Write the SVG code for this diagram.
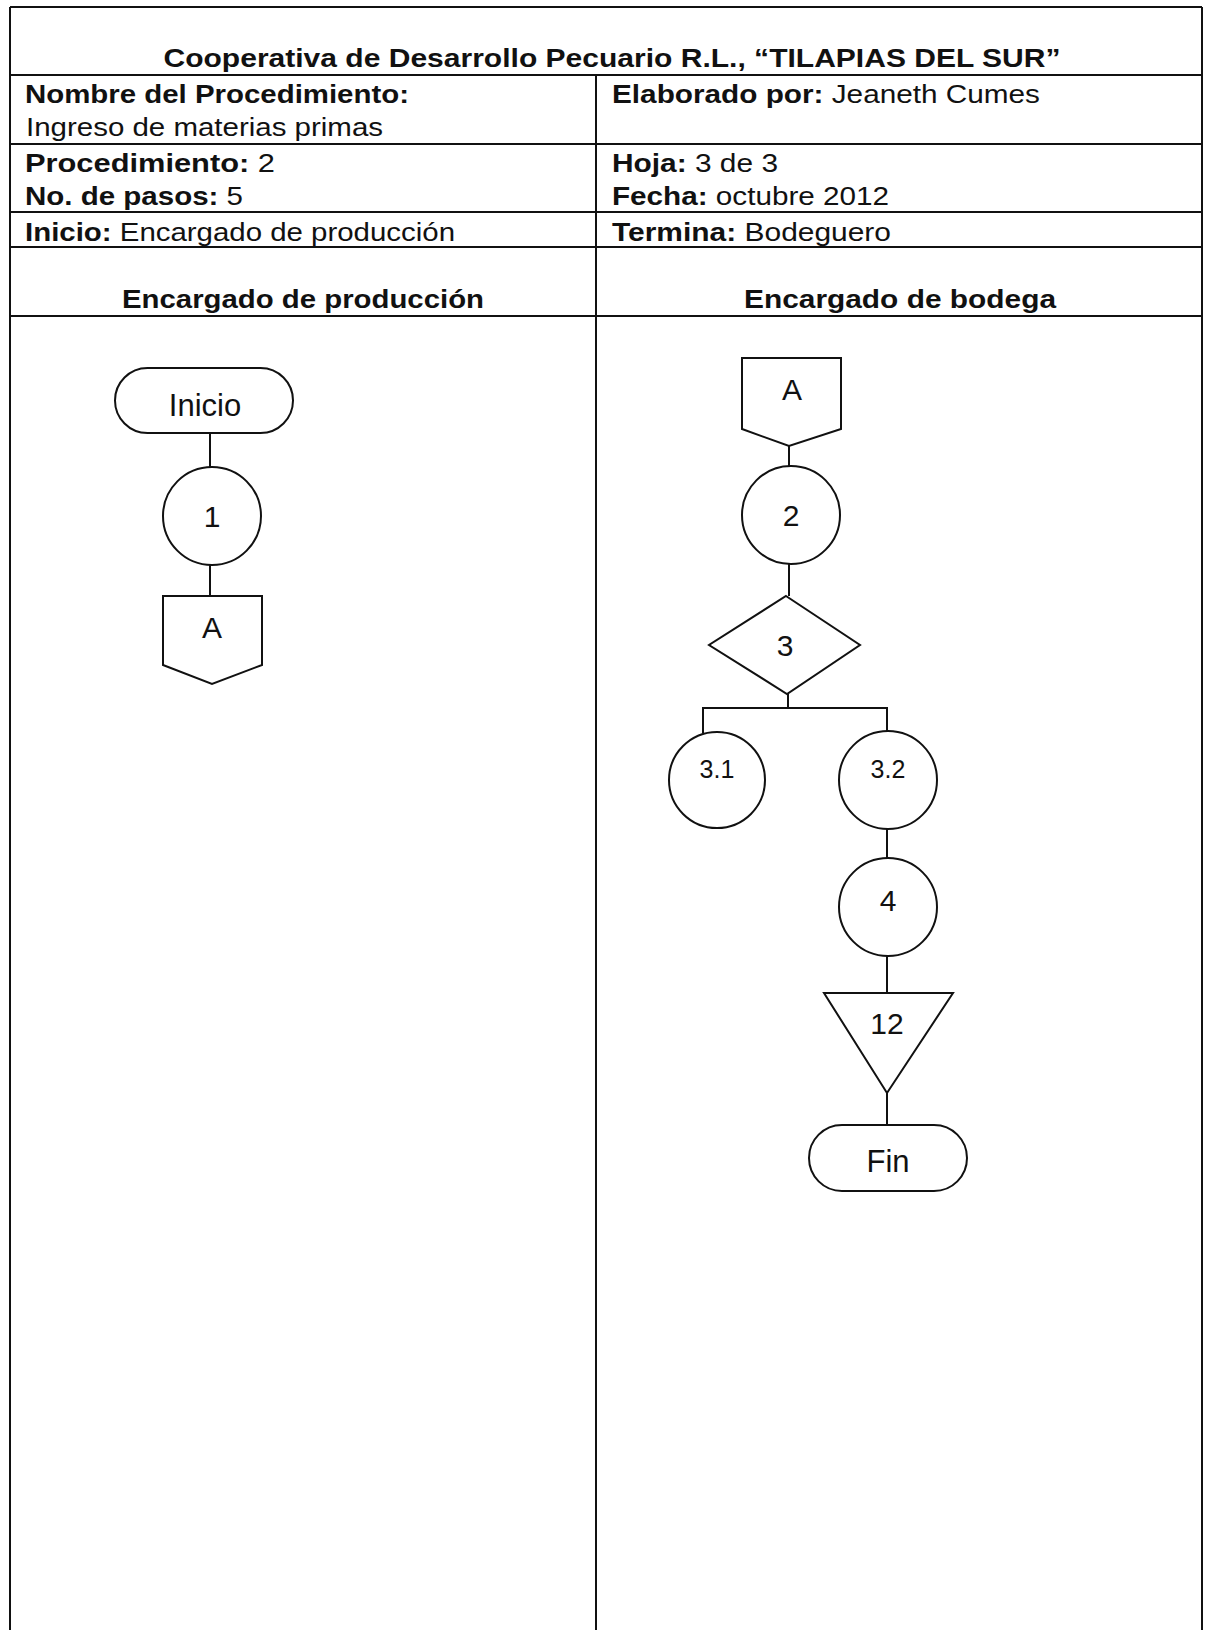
<svg xmlns="http://www.w3.org/2000/svg" width="1207" height="1630" viewBox="0 0 1207 1630">
<style>
.tl{stroke:#111;stroke-width:2;fill:none}
.sh{stroke:#111;stroke-width:2;fill:#fff}
.cn{stroke:#111;stroke-width:2;fill:none}
.h{font-family:"Liberation Sans",Arial,sans-serif;font-size:25px;fill:#111}
.b{font-weight:bold}
.lane{font-family:"Liberation Sans",Arial,sans-serif;font-size:26px;font-weight:bold;fill:#111;text-anchor:middle}
.nt{font-family:"Liberation Sans",Arial,sans-serif;font-size:30px;fill:#111;text-anchor:middle}
.tt{font-family:"Liberation Sans",Arial,sans-serif;font-size:31px;fill:#111;text-anchor:middle}
.ns{font-family:"Liberation Sans",Arial,sans-serif;font-size:25px;fill:#111;text-anchor:middle}
</style>
<rect width="1207" height="1630" fill="#fff"/>
<g id="table">
<line class="tl" x1="10" y1="7" x2="1202" y2="7"/>
<line class="tl" x1="10" y1="7" x2="10" y2="1630"/>
<line class="tl" x1="1202" y1="7" x2="1202" y2="1630"/>
<line class="tl" x1="10" y1="75" x2="1202" y2="75"/>
<line class="tl" x1="10" y1="144" x2="1202" y2="144"/>
<line class="tl" x1="10" y1="212" x2="1202" y2="212"/>
<line class="tl" x1="10" y1="247" x2="1202" y2="247"/>
<line class="tl" x1="10" y1="316" x2="1202" y2="316"/>
<line class="tl" x1="596" y1="75" x2="596" y2="1630"/>
</g>
<g id="header-text">
<text class="h b" x="612" y="67" text-anchor="middle" style="font-size:26px" textLength="897" lengthAdjust="spacingAndGlyphs">Cooperativa de Desarrollo Pecuario R.L., “TILAPIAS DEL SUR”</text>
<text class="h b" x="25" y="103" textLength="384" lengthAdjust="spacingAndGlyphs">Nombre del Procedimiento:</text>
<text class="h" x="26" y="136" textLength="357" lengthAdjust="spacingAndGlyphs">Ingreso de materias primas</text>
<text class="h" x="25" y="172" textLength="250" lengthAdjust="spacingAndGlyphs"><tspan class="b">Procedimiento:</tspan> 2</text>
<text class="h" x="25" y="205" textLength="218" lengthAdjust="spacingAndGlyphs"><tspan class="b">No. de pasos:</tspan> 5</text>
<text class="h" x="25" y="241" textLength="430" lengthAdjust="spacingAndGlyphs"><tspan class="b">Inicio:</tspan> Encargado de producción</text>
<text class="h" x="612" y="103" textLength="428" lengthAdjust="spacingAndGlyphs"><tspan class="b">Elaborado por:</tspan> Jeaneth Cumes</text>
<text class="h" x="612" y="172" textLength="166" lengthAdjust="spacingAndGlyphs"><tspan class="b">Hoja:</tspan> 3 de 3</text>
<text class="h" x="612" y="205" textLength="277" lengthAdjust="spacingAndGlyphs"><tspan class="b">Fecha:</tspan> octubre 2012</text>
<text class="h" x="612" y="241" textLength="279" lengthAdjust="spacingAndGlyphs"><tspan class="b">Termina:</tspan> Bodeguero</text>
<text class="lane" x="303" y="308" textLength="362" lengthAdjust="spacingAndGlyphs">Encargado de producción</text>
<text class="lane" x="900" y="308" textLength="312" lengthAdjust="spacingAndGlyphs">Encargado de bodega</text>
</g>
<g id="connectors">
<line class="cn" x1="210" y1="433" x2="210" y2="468"/>
<line class="cn" x1="210" y1="564" x2="210" y2="596"/>
<line class="cn" x1="789" y1="446" x2="789" y2="467"/>
<line class="cn" x1="789" y1="563" x2="789" y2="596"/>
<line class="cn" x1="788" y1="694" x2="788" y2="708"/>
<polyline class="cn" points="703,733 703,708 887,708 887,733"/>
<line class="cn" x1="887" y1="828" x2="887" y2="859"/>
<line class="cn" x1="887" y1="956" x2="887" y2="993"/>
<line class="cn" x1="887" y1="1093" x2="887" y2="1125"/>
</g>
<g id="inicio">
<rect class="sh" x="115" y="368" width="178" height="65" rx="32.5"/>
<text class="tt" x="205" y="416">Inicio</text>
</g>
<g id="n1">
<circle class="sh" cx="212" cy="516" r="49"/>
<text class="nt" x="212" y="527">1</text>
</g>
<g id="a-out">
<polygon class="sh" points="163,596 262,596 262,665 212,684 163,665"/>
<text class="nt" x="212" y="638">A</text>
</g>
<g id="a-in">
<polygon class="sh" points="742,358 841,358 841,429 789,446 742,429"/>
<text class="nt" x="792" y="400">A</text>
</g>
<g id="n2">
<circle class="sh" cx="791" cy="515" r="49"/>
<text class="nt" x="791" y="526">2</text>
</g>
<g id="n3">
<polygon class="sh" points="786,596 860,645 787,694 709,645"/>
<text class="nt" x="785" y="656">3</text>
</g>
<g id="n3-1">
<circle class="sh" cx="717" cy="780" r="48"/>
<text class="ns" x="717" y="778">3.1</text>
</g>
<g id="n3-2">
<circle class="sh" cx="888" cy="780" r="49"/>
<text class="ns" x="888" y="778">3.2</text>
</g>
<g id="n4">
<circle class="sh" cx="888" cy="907" r="49"/>
<text class="nt" x="888" y="911">4</text>
</g>
<g id="n12">
<polygon class="sh" points="824,993 953,993 887,1093"/>
<text class="nt" x="887" y="1034">12</text>
</g>
<g id="fin">
<rect class="sh" x="809" y="1125" width="158" height="66" rx="33"/>
<text class="tt" x="888" y="1172">Fin</text>
</g>
</svg>
